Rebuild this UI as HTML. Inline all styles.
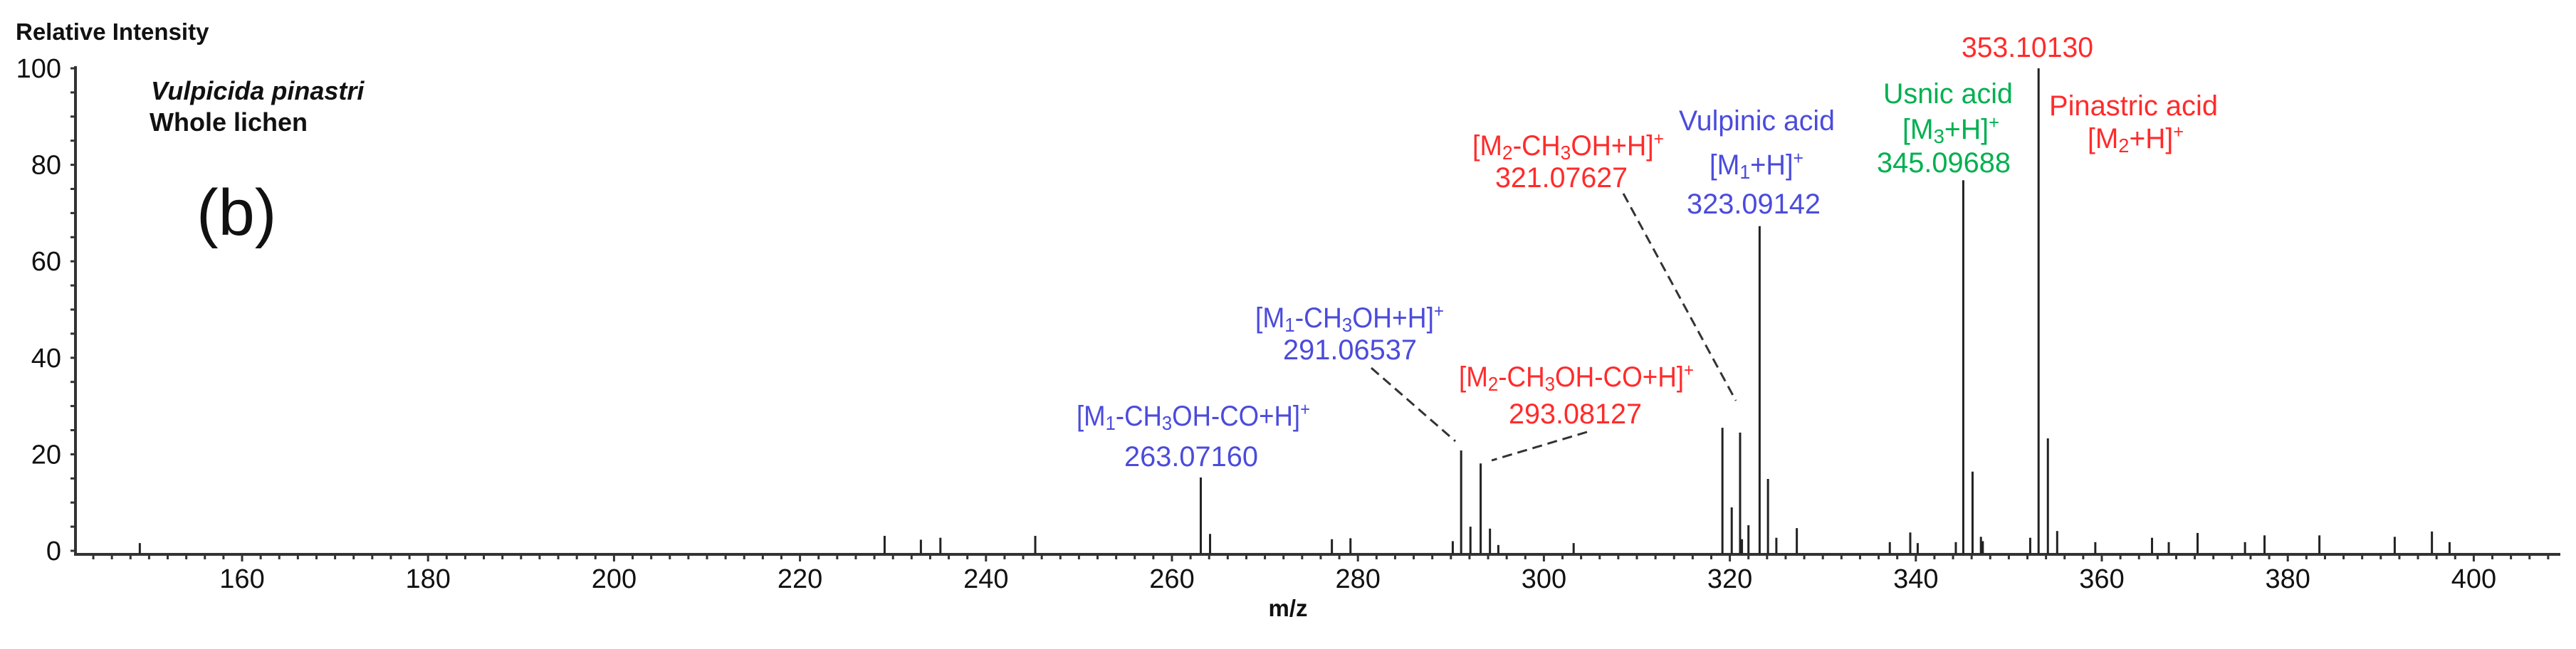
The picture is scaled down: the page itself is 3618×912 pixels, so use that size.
<!DOCTYPE html>
<html><head><meta charset="utf-8">
<style>
html,body{margin:0;padding:0;background:#fff;}
svg{display:block;}
text{font-family:"Liberation Sans",sans-serif;}
</style></head>
<body>
<svg id="chart" width="3618" height="912" viewBox="0 0 3618 912" xmlns="http://www.w3.org/2000/svg">
  <text x="22" y="56" font-size="33" font-weight="bold" fill="#111">Relative Intensity</text>
  <text x="212" y="140" font-size="36" font-weight="bold" font-style="italic" fill="#111">Vulpicida pinastri</text>
  <text x="210" y="184" font-size="36" font-weight="bold" fill="#111">Whole lichen</text>
  <text x="276" y="330" font-size="92" fill="#111">(b)</text>
  <text x="1809" y="866" font-size="33" font-weight="bold" fill="#111" text-anchor="middle">m/z</text>
  <g id="axes"></g>
  <g id="peaks"></g>
  <g font-size="40">
    <g fill="#4b4bdc">
      <text x="1512" y="598" textLength="328" lengthAdjust="spacingAndGlyphs">[M<tspan font-size="28" dy="6">1</tspan><tspan dy="-6">-CH</tspan><tspan font-size="28" dy="6">3</tspan><tspan dy="-6">OH-CO+H]</tspan><tspan font-size="26" dy="-14">+</tspan></text>
      <text x="1579" y="655" textLength="188" lengthAdjust="spacingAndGlyphs">263.07160</text>
      <text x="1763" y="460" textLength="265" lengthAdjust="spacingAndGlyphs">[M<tspan font-size="28" dy="6">1</tspan><tspan dy="-6">-CH</tspan><tspan font-size="28" dy="6">3</tspan><tspan dy="-6">OH+H]</tspan><tspan font-size="26" dy="-14">+</tspan></text>
      <text x="1802" y="505" textLength="188" lengthAdjust="spacingAndGlyphs">291.06537</text>
      <text x="2358" y="183" textLength="219" lengthAdjust="spacingAndGlyphs">Vulpinic acid</text>
      <text x="2401" y="245" textLength="132" lengthAdjust="spacingAndGlyphs">[M<tspan font-size="28" dy="6">1</tspan><tspan dy="-6">+H]</tspan><tspan font-size="26" dy="-14">+</tspan></text>
      <text x="2369" y="300" textLength="188" lengthAdjust="spacingAndGlyphs">323.09142</text>
    </g>
    <g fill="#ff2b2b">
      <text x="2049" y="543" textLength="330" lengthAdjust="spacingAndGlyphs">[M<tspan font-size="28" dy="6">2</tspan><tspan dy="-6">-CH</tspan><tspan font-size="28" dy="6">3</tspan><tspan dy="-6">OH-CO+H]</tspan><tspan font-size="26" dy="-14">+</tspan></text>
      <text x="2119" y="595" textLength="187" lengthAdjust="spacingAndGlyphs">293.08127</text>
      <text x="2068" y="218" textLength="269" lengthAdjust="spacingAndGlyphs">[M<tspan font-size="28" dy="6">2</tspan><tspan dy="-6">-CH</tspan><tspan font-size="28" dy="6">3</tspan><tspan dy="-6">OH+H]</tspan><tspan font-size="26" dy="-14">+</tspan></text>
      <text x="2100" y="263" textLength="186" lengthAdjust="spacingAndGlyphs">321.07627</text>
      <text x="2755" y="80" textLength="185" lengthAdjust="spacingAndGlyphs">353.10130</text>
      <text x="2878" y="162" textLength="237" lengthAdjust="spacingAndGlyphs">Pinastric acid</text>
      <text x="2932" y="208" textLength="135" lengthAdjust="spacingAndGlyphs">[M<tspan font-size="28" dy="6">2</tspan><tspan dy="-6">+H]</tspan><tspan font-size="26" dy="-14">+</tspan></text>
    </g>
    <g fill="#00b050">
      <text x="2645" y="145" textLength="182" lengthAdjust="spacingAndGlyphs">Usnic acid</text>
      <text x="2672" y="195" textLength="136" lengthAdjust="spacingAndGlyphs">[M<tspan font-size="28" dy="6">3</tspan><tspan dy="-6">+H]</tspan><tspan font-size="26" dy="-14">+</tspan></text>
      <text x="2636" y="242" textLength="188" lengthAdjust="spacingAndGlyphs">345.09688</text>
    </g>
    <g stroke="#333" stroke-width="3" stroke-dasharray="14 8" fill="none">
      <line x1="1926" y1="517" x2="2044" y2="620"/>
      <line x1="2229" y1="607" x2="2095" y2="647"/>
      <line x1="2280" y1="272" x2="2438" y2="563"/>
    </g>
  </g>
</svg>
<script>
const mzValues = [149,229.1,233,235.1,245.3,263.1,264.1,277.2,279.2,290.2,291.1,292.1,293.2,294.2,295.1,303.2,319.2,320.2,321.1,321.3,322,323.2,324.1,325,327.2,337.2,339.4,340.2,344.3,345.1,346.1,347,347.2,352.3,353.2,354.2,355.2,359.3,365.4,367.2,370.3,375.4,377.5,383.4,391.5,395.5,397.4];
const intensities = [1.6,3.1,2.3,2.7,3.1,15.2,3.5,2.4,2.6,2,20.8,5,18.1,4.6,1.2,1.6,25.5,9,24.5,2.4,5.3,67.3,14.9,2.7,4.7,1.8,3.8,1.6,1.8,76.8,16.4,2.9,2,2.7,100,23.3,4.1,1.8,2.7,1.8,3.7,1.8,3.2,3.2,2.9,4,1.8];
const xTickLabels = [160,180,200,220,240,260,280,300,320,340,360,380,400];
const yTickLabels = [0,20,40,60,80,100];

const NS = "http://www.w3.org/2000/svg";
const X0 = 340, XS = 13.06, Y0 = 774, YS = 6.78;
function xScale(mz){ return X0 + (mz - 160) * XS; }
function yScale(v){ return Y0 - v * YS; }
function mk(tag, attrs, parent){
  const el = document.createElementNS(NS, tag);
  for (const k in attrs) el.setAttribute(k, attrs[k]);
  parent.appendChild(el);
  return el;
}
const axes = document.getElementById('axes');
const peaks = document.getElementById('peaks');
// axis lines
let yAxis = mk('line', {x1:106, y1:93, x2:106, y2:779, stroke:'#333', 'stroke-width':4}, axes);


let xAxis = mk('line', {x1:104, y1:779, x2:3596, y2:779, stroke:'#333', 'stroke-width':4}, axes);


// y ticks every 5
for (let v = 0; v <= 100; v += 5) {
  const y = yScale(v);
  const t = mk('line', {x1:99, y1:y, x2:106, y2:y, stroke:'#333', 'stroke-width':3}, axes);
  
  
}
yTickLabels.forEach(v => {
  const t = mk('text', {x:86, y:yScale(v)+13, 'font-size':38, fill:'#111', 'text-anchor':'end'}, axes);
  t.textContent = v;
  
  
});
// x ticks every 2
for (let m = 144; m <= 408; m += 2) {
  const x = xScale(m);
  const major = (m % 20 === 0);
  const t = mk('line', {x1:x, y1:779, x2:x, y2: major ? 789 : 786, stroke:'#333', 'stroke-width':3}, axes);
  
  
}
xTickLabels.forEach(v => {
  const t = mk('text', {x:xScale(v), y:826, 'font-size':38, fill:'#111', 'text-anchor':'middle'}, axes);
  t.textContent = v;
  
  
});
// peaks
mzValues.forEach((mz, i) => {
  const x = xScale(mz);
  const p = mk('line', {x1:x, y1:778, x2:x, y2:yScale(intensities[i]), stroke:'#222', 'stroke-width':3}, peaks);
  
  
});
</script>
</body></html>
